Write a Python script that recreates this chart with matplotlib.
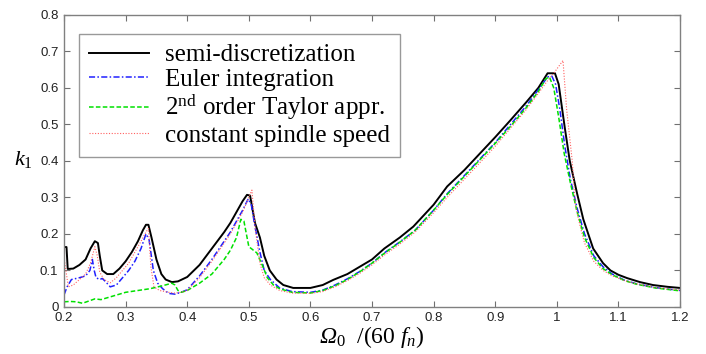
import matplotlib
matplotlib.use("Agg")
import matplotlib.pyplot as plt

plt.rcParams['mathtext.fontset'] = 'custom'
plt.rcParams['mathtext.rm'] = 'Liberation Serif'
plt.rcParams['mathtext.it'] = 'Liberation Serif:italic'
plt.rcParams['mathtext.sf'] = 'Liberation Serif:italic'

# semi-discretization (black)
semi_x = [0.200, 0.204, 0.206, 0.215, 0.225, 0.235, 0.243, 0.250, 0.255, 0.258, 0.262, 0.270, 0.280,
          0.290, 0.300, 0.310, 0.320, 0.328, 0.333, 0.337, 0.342, 0.350, 0.358, 0.365, 0.375, 0.385,
          0.400, 0.420, 0.440, 0.460, 0.470, 0.480, 0.490, 0.497, 0.502, 0.510, 0.518, 0.525, 0.534,
          0.545, 0.556, 0.572, 0.600, 0.620, 0.637, 0.660, 0.680, 0.700, 0.720, 0.745, 0.767, 0.800,
          0.822, 0.850, 0.875, 0.900, 0.924, 0.950, 0.970, 0.985, 0.997, 1.003, 1.013, 1.021, 1.033,
          1.043, 1.059, 1.075, 1.087, 1.100, 1.114, 1.135, 1.156, 1.180, 1.200]
semi_y = [0.164, 0.164, 0.104, 0.105, 0.115, 0.130, 0.160, 0.180, 0.175, 0.140, 0.100, 0.090, 0.090,
          0.105, 0.125, 0.150, 0.180, 0.210, 0.225, 0.225, 0.190, 0.130, 0.090, 0.075, 0.068, 0.070,
          0.082, 0.115, 0.160, 0.205, 0.230, 0.260, 0.290, 0.307, 0.305, 0.230, 0.190, 0.140, 0.100,
          0.075, 0.060, 0.052, 0.052, 0.060, 0.074, 0.090, 0.110, 0.130, 0.160, 0.190, 0.220, 0.280,
          0.330, 0.375, 0.420, 0.465, 0.510, 0.560, 0.600, 0.640, 0.640, 0.610, 0.490, 0.400, 0.310,
          0.240, 0.160, 0.120, 0.100, 0.088, 0.079, 0.068, 0.060, 0.055, 0.052]

# Euler integration (blue)
euler_x = [0.200, 0.205, 0.212, 0.225, 0.235, 0.242, 0.246, 0.249, 0.252, 0.258, 0.262, 0.267, 0.275,
           0.285, 0.295, 0.305, 0.315, 0.325, 0.333, 0.338, 0.345, 0.352, 0.360, 0.370, 0.380, 0.390,
           0.400, 0.420, 0.440, 0.460, 0.470, 0.480, 0.490, 0.499, 0.504, 0.510, 0.518, 0.525, 0.535,
           0.550, 0.570, 0.600, 0.620, 0.640, 0.660, 0.680, 0.700, 0.720, 0.745, 0.770, 0.800, 0.822,
           0.850, 0.875, 0.900, 0.925, 0.950, 0.970, 0.985, 0.992, 0.998, 1.005, 1.013, 1.022, 1.033,
           1.045, 1.060, 1.075, 1.090, 1.110, 1.130, 1.160, 1.200]
euler_y = [0.033, 0.055, 0.075, 0.080, 0.085, 0.100, 0.130, 0.100, 0.080, 0.075, 0.078, 0.070, 0.055,
           0.060, 0.080, 0.100, 0.125, 0.160, 0.200, 0.185, 0.100, 0.065, 0.050, 0.037, 0.035, 0.040,
           0.047, 0.085, 0.130, 0.180, 0.205, 0.235, 0.265, 0.296, 0.280, 0.220, 0.150, 0.100, 0.075,
           0.052, 0.042, 0.040, 0.046, 0.060, 0.077, 0.097, 0.120, 0.148, 0.178, 0.210, 0.265, 0.310,
           0.360, 0.405, 0.450, 0.500, 0.550, 0.595, 0.630, 0.632, 0.610, 0.540, 0.440, 0.350, 0.270,
           0.200, 0.140, 0.110, 0.090, 0.073, 0.063, 0.053, 0.045]

# 2nd order Taylor approximation (green)
taylor_x = [0.200, 0.210, 0.220, 0.230, 0.240, 0.250, 0.260, 0.270, 0.280, 0.290, 0.300, 0.320, 0.340,
            0.360, 0.375, 0.380, 0.385, 0.390, 0.400, 0.420, 0.440, 0.460, 0.470, 0.480, 0.487, 0.492,
            0.496, 0.500, 0.513, 0.523, 0.530, 0.540, 0.550, 0.570, 0.600, 0.620, 0.640, 0.660, 0.680,
            0.700, 0.720, 0.745, 0.770, 0.800, 0.822, 0.850, 0.875, 0.900, 0.925, 0.950, 0.970, 0.982,
            0.988, 0.995, 1.003, 1.012, 1.022, 1.033, 1.045, 1.060, 1.075, 1.090, 1.110, 1.130, 1.160,
            1.200]
taylor_y = [0.014, 0.015, 0.014, 0.010, 0.016, 0.022, 0.020, 0.025, 0.030, 0.035, 0.040, 0.045, 0.050,
            0.058, 0.065, 0.060, 0.045, 0.040, 0.045, 0.065, 0.090, 0.130, 0.155, 0.190, 0.240, 0.235,
            0.200, 0.165, 0.148, 0.110, 0.080, 0.060, 0.050, 0.040, 0.038, 0.045, 0.058, 0.075, 0.096,
            0.120, 0.147, 0.177, 0.210, 0.265, 0.308, 0.358, 0.403, 0.448, 0.495, 0.545, 0.590, 0.625,
            0.630, 0.600, 0.520, 0.420, 0.340, 0.260, 0.190, 0.135, 0.105, 0.088, 0.072, 0.062, 0.052,
            0.044]

# constant spindle speed (red)
const_x = [0.200, 0.203, 0.207, 0.215, 0.225, 0.235, 0.243, 0.250, 0.254, 0.258, 0.265, 0.275, 0.285,
           0.295, 0.305, 0.315, 0.325, 0.333, 0.337, 0.341, 0.346, 0.355, 0.370, 0.380, 0.390, 0.400,
           0.420, 0.440, 0.460, 0.470, 0.480, 0.490, 0.500, 0.505, 0.510, 0.518, 0.525, 0.535, 0.550,
           0.570, 0.600, 0.620, 0.640, 0.660, 0.680, 0.700, 0.720, 0.745, 0.770, 0.800, 0.822, 0.850,
           0.875, 0.900, 0.925, 0.950, 0.970, 0.985, 0.995, 1.010, 1.016, 1.025, 1.030, 1.038, 1.045,
           1.060, 1.075, 1.090, 1.110, 1.130, 1.160, 1.200]
const_y = [0.137, 0.100, 0.055, 0.060, 0.075, 0.090, 0.120, 0.165, 0.140, 0.095, 0.075, 0.066, 0.080,
           0.100, 0.120, 0.150, 0.180, 0.205, 0.215, 0.110, 0.055, 0.045, 0.040, 0.038, 0.040, 0.045,
           0.080, 0.125, 0.175, 0.200, 0.230, 0.260, 0.300, 0.320, 0.220, 0.120, 0.080, 0.060, 0.045,
           0.038, 0.037, 0.042, 0.055, 0.072, 0.092, 0.115, 0.142, 0.172, 0.205, 0.258, 0.300, 0.350,
           0.395, 0.440, 0.490, 0.540, 0.585, 0.620, 0.640, 0.675, 0.540, 0.400, 0.280, 0.220, 0.175,
           0.125, 0.100, 0.085, 0.072, 0.063, 0.053, 0.046]

labels = ["semi-discretization", "Euler integration",
          "2$^{\\mathrm{nd}}$ order Taylor appr.", "constant spindle speed"]

fig = plt.figure(figsize=(7.06, 3.54), dpi=100)
ax = fig.add_axes([0.0907, 0.133, 0.8725, 0.825])

ax.plot(semi_x, semi_y, color='black', lw=1.4, ls='-', label=labels[0])
ax.plot(euler_x, euler_y, color='#2020ff', lw=1.1, ls=(0, (4, 1.5, 1, 1.5)), label=labels[1])
ax.plot(taylor_x, taylor_y, color='#00e000', lw=1.1, ls=(0, (3, 1.5)), label=labels[2])
ax.plot(const_x, const_y, color='#ff6060', lw=0.8, ls=(0, (1, 1.5)), label=labels[3])

ax.set_xlim(0.2, 1.2)
ax.set_ylim(0, 0.8)
ax.set_xticks([0.2, 0.3, 0.4, 0.5, 0.6, 0.7, 0.8, 0.9, 1.0, 1.1, 1.2])
ax.set_xticklabels(['0.2', '0.3', '0.4', '0.5', '0.6', '0.7', '0.8', '0.9', '1', '1.1', '1.2'])
ax.set_yticks([0, 0.1, 0.2, 0.3, 0.4, 0.5, 0.6, 0.7, 0.8])
ax.set_yticklabels(['0', '0.1', '0.2', '0.3', '0.4', '0.5', '0.6', '0.7', '0.8'])
ax.tick_params(direction='in', top=True, right=True, length=4, width=0.8, color='#707070',
               labelsize=9.5, labelcolor='#222222', pad=4)
for lab in ax.get_xticklabels() + ax.get_yticklabels():
    lab.set_family('Liberation Sans')
for s in ax.spines.values():
    s.set_color('#808080')
    s.set_linewidth(1.0)

ax.set_xlabel('$\\mathsf{Ω}_0\\ \\ /(60\\ f_n)$', fontsize=17, labelpad=0)
ax.set_ylabel('$k_1$', fontsize=16, rotation=0, labelpad=6)
ax.yaxis.set_label_coords(-0.066, 0.47)

leg = ax.legend(loc='upper left', bbox_to_anchor=(0.024, 0.935), prop={'family': 'Liberation Serif', 'size': 18},
                frameon=True, fancybox=False, edgecolor='#808080', handlelength=2.4, handletextpad=0.65,
                labelspacing=0.08, borderpad=0.4, borderaxespad=0)
leg.get_frame().set_linewidth(1.0)

fig.savefig('out.png', dpi=100)
